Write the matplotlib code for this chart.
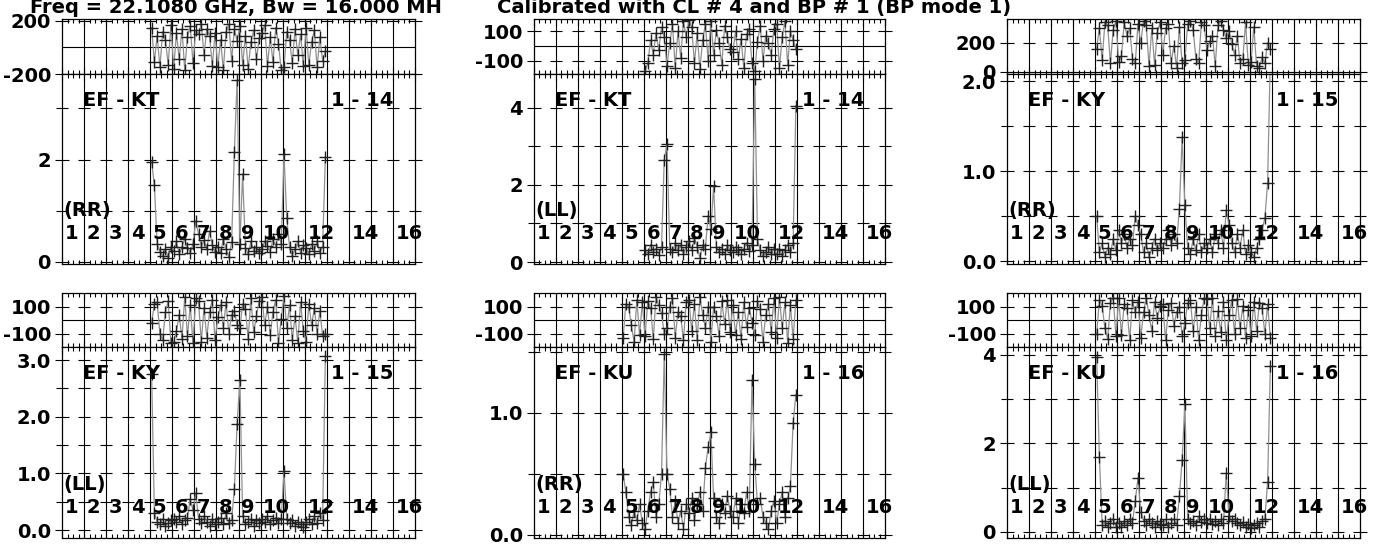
import matplotlib
matplotlib.use('Agg')
import matplotlib.pyplot as plt
from matplotlib.ticker import MultipleLocator, FixedLocator

plt.rcParams['font.family'] = ['DejaVu Sans']
plt.rcParams['font.weight'] = 'bold'
FS = 14

# ---------------- data ----------------
NCH = 8
IF_LABELS = [1, 2, 3, 4, 5, 6, 7, 8, 9, 10, 12, 14, 16]
TITLE_LEFT = "Freq = 22.1080 GHz, Bw = 16.000 MH"
TITLE_RIGHT = "Calibrated with CL # 4 and BP # 1 (BP mode 1)"

baselines = ["EF - KT", "EF - KT", "EF - KY", "EF - KY", "EF - KU", "EF - KU"]
ant_nums = ["1 - 14", "1 - 14", "1 - 15", "1 - 15", "1 - 16", "1 - 16"]
pols = ["(RR)", "(LL)", "(RR)", "(LL)", "(RR)", "(LL)"]
first_if = [5, 6, 5, 5, 5, 5]

amp1 = [[1.95, 1.50, 0.35, 0.20, 0.12, 0.25, 0.08, 0.30],
        [0.22, 0.40, 0.15, 0.30, 0.45, 0.28, 0.18, 0.35],
        [0.80, 0.55, 0.30, 0.42, 0.25, 0.60, 0.33, 0.20],
        [0.30, 0.18, 0.45, 0.25, 0.10, 0.38, 2.15, 3.55],
        [0.35, 1.72, 0.28, 0.15, 0.40, 0.22, 0.30, 0.18],
        [0.25, 0.40, 0.32, 0.20, 0.45, 0.30, 0.55, 0.35],
        [2.10, 0.85, 0.30, 0.12, 0.25, 0.40, 0.18, 0.33],
        [0.28, 0.15, 0.35, 0.22, 0.40, 0.18, 0.30, 2.05]]
phs1 = [[150, -110, 90, -150, 120, 60, -130, 170],
        [-160, 110, -90, 140, -170, 80, 160, -120],
        [130, 100, 180, -60, 140, 90, -140, 110],
        [-150, 60, -170, 120, 175, -100, 140, 50],
        [160, -130, 90, -160, 40, 130, -90, 70],
        [110, 170, -140, 80, -110, 150, 30, -170],
        [-150, 120, 60, -120, 140, -60, 100, -140],
        [150, -130, 40, 130, -150, 80, -100, -30]]

amp2 = [[0.30, 0.20, 0.45, 0.25, 0.35, 0.18, 0.40, 2.65],
        [3.05, 0.35, 0.25, 0.50, 0.30, 0.45, 0.20, 0.40],
        [0.55, 0.30, 0.62, 0.40, 0.10, 0.45, 0.35, 1.20],
        [0.85, 1.97, 0.40, 0.25, 0.35, 0.20, 0.45, 0.30],
        [0.25, 0.40, 0.30, 0.20, 0.35, 0.50, 0.28, 0.45],
        [4.75, 0.60, 0.30, 0.15, 0.25, 0.40, 0.20, 0.35],
        [0.20, 0.35, 0.15, 0.30, 0.45, 0.25, 0.50, 4.05]]
phs2 = [[-170, -120, 40, -60, 90, -30, 130, 60],
        [-140, 20, 150, -150, 100, -80, 170, 60],
        [180, 130, -120, 90, -160, 40, 150, -100],
        [170, -60, 110, 20, -130, 140, 60, -20],
        [-40, 100, -90, 50, -150, 80, 120, -120],
        [-170, 30, 140, -100, 70, 20, -60, 120],
        [150, -150, 60, 170, -130, 100, 40, -20]]

amp3 = [[0.50, 0.10, 0.20, 0.05, 0.15, 0.08, 0.25, 0.12],
        [0.35, 0.20, 0.30, 0.15, 0.25, 0.18, 0.50, 0.40],
        [0.30, 0.10, 0.20, 0.05, 0.15, 0.25, 0.12, 0.20],
        [0.15, 0.25, 0.35, 0.18, 0.30, 0.20, 0.58, 1.38],
        [0.62, 0.15, 0.08, 0.25, 0.12, 0.30, 0.10, 0.20],
        [0.15, 0.25, 0.10, 0.30, 0.20, 0.35, 0.15, 0.57],
        [0.40, 0.20, 0.10, 0.30, 0.15, 0.35, 0.08, 0.18],
        [0.10, 0.05, 0.15, 0.25, 0.35, 0.48, 0.87, 2.30]]
phs3 = [[160, 300, 80, 340, 320, 60, 290, 350],
        [70, 110, 340, 250, 300, 90, 60, 330],
        [200, 350, 320, 40, 300, 50, 270, 340],
        [120, 300, 330, 60, 180, 30, 310, 60],
        [80, 330, 350, 290, 90, 60, 340, 320],
        [150, 210, 250, 40, 320, 350, 290, 230],
        [280, 190, 120, 250, 60, 90, 340, 50],
        [70, 310, 40, 30, 100, 60, 200, 160]]

amp4 = [[2.75, 0.30, 0.15, 0.10, 0.20, 0.08, 0.12, 0.18],
        [0.20, 0.15, 0.25, 0.10, 0.18, 0.22, 0.55, 0.35],
        [0.65, 0.20, 0.12, 0.25, 0.15, 0.08, 0.20, 0.10],
        [0.15, 0.22, 0.10, 0.30, 0.12, 0.18, 0.72, 1.88],
        [2.65, 0.25, 0.10, 0.15, 0.20, 0.08, 0.18, 0.12],
        [0.20, 0.15, 0.25, 0.10, 0.18, 0.22, 0.12, 0.20],
        [1.05, 0.20, 0.12, 0.18, 0.08, 0.15, 0.10, 0.05],
        [0.15, 0.20, 0.10, 0.25, 0.12, 0.30, 0.18, 3.08]]
phs4 = [[-20, 120, 130, -100, -150, 60, 140, -170],
        [-160, -80, 40, -140, 170, -120, 110, -170],
        [160, 140, -160, 90, -130, 60, 150, -150],
        [20, 110, -60, 130, -100, 40, 70, -40],
        [-60, 120, 80, -140, 160, -90, 30, 140],
        [170, -40, 100, -110, 60, 150, -170, 10],
        [180, -60, 110, -150, 30, -170, 130, -80],
        [-160, 120, -40, 90, -100, 70, -120, -100]]

amp5 = [[0.50, 0.35, 0.15, 0.08, 0.20, 0.12, 0.25, 0.10],
        [0.05, 0.20, 0.35, 0.43, 0.15, 0.25, 0.50, 1.48],
        [0.50, 0.38, 0.15, 0.28, 0.10, 0.20, 0.05, 0.25],
        [0.18, 0.30, 0.12, 0.25, 0.35, 0.20, 0.55, 0.72],
        [0.84, 0.30, 0.15, 0.10, 0.25, 0.18, 0.32, 0.20],
        [0.15, 0.30, 0.10, 0.25, 0.18, 0.35, 0.20, 1.27],
        [0.58, 0.25, 0.30, 0.15, 0.10, 0.05, 0.20, 0.28],
        [0.10, 0.25, 0.35, 0.15, 0.30, 0.40, 0.92, 1.15]]
phs5 = [[-130, 120, 100, -40, -160, 150, -110, 130],
        [-120, 140, 90, -140, 170, 110, 50, -100],
        [-60, 100, 160, -130, 60, 30, -150, 130],
        [150, -80, 120, -150, 170, 40, -60, 100],
        [-160, 100, 30, -120, 140, -30, 150, -90],
        [110, -110, 60, -140, 130, -50, 90, -20],
        [-110, 140, 80, -160, 40, 120, -90, 160],
        [-130, 170, -60, 130, -170, 110, -140, 150]]

amp6 = [[3.95, 1.70, 0.15, 0.25, 0.10, 0.20, 0.30, 0.12],
        [0.20, 0.10, 0.25, 0.15, 0.30, 0.20, 0.70, 1.22],
        [0.45, 0.25, 0.15, 0.30, 0.20, 0.12, 0.25, 0.18],
        [0.15, 0.28, 0.10, 0.20, 0.30, 0.15, 0.80, 1.63],
        [2.90, 0.30, 0.20, 0.25, 0.15, 0.35, 0.22, 0.28],
        [0.20, 0.30, 0.18, 0.25, 0.15, 0.28, 0.20, 1.33],
        [0.35, 0.25, 0.30, 0.20, 0.15, 0.22, 0.10, 0.18],
        [0.08, 0.15, 0.20, 0.12, 0.25, 0.30, 1.13, 3.75]]
phs6 = [[-100, 150, 110, -60, -140, 130, 170, -120],
        [170, -110, 120, 90, -150, 150, 60, 140],
        [-130, 60, 170, 40, -80, 140, 20, 110],
        [120, -150, 80, 130, -40, 60, 100, -120],
        [-20, 130, 150, -80, 100, -150, 40, 170],
        [160, -60, 170, -120, 70, -90, 140, -150],
        [40, 150, -100, 160, -60, 110, -130, 80],
        [-120, 140, -80, 130, 90, -100, 120, -130]]

amps = [amp1, amp2, amp3, amp4, amp5, amp6]
phases = [phs1, phs2, phs3, phs4, phs5, phs6]

# axis ranges and ticks
amp_lims = [(-0.04, 3.67), (-0.05, 4.87), (-0.03, 2.08), (-0.14, 3.23), (-0.025, 1.54), (-0.14, 4.18)]
amp_major = [[0, 2], [0, 2, 4], [0.0, 1.0, 2.0], [0.0, 1.0, 2.0, 3.0], [0.0, 1.0], [0, 2, 4]]
amp_fmt = ["{:.0f}", "{:.0f}", "{:.1f}", "{:.1f}", "{:.1f}", "{:.0f}"]
amp_minor = [[1, 3], [1, 3], [0.5, 1.5], [0.5, 1.5, 2.5], [0.5, 1.5], [1, 3]]
ph_lims = [(-200, 215), (-193, 186), (-14, 364), (-200, 200), (-200, 200), (-200, 205)]
ph_major = [[-200, 200], [-100, 100], [0, 200], [-100, 100], [-100, 100], [-100, 100]]

# ---------------- layout ----------------
W, H = 1381, 547
fig = plt.figure(figsize=(W / 100, H / 100), dpi=100)

cols = [(62, 415), (534, 885), (1007, 1360)]
rows = [(19, 74, 264), (293, 347, 538)]


def style_axes(ax, ylo, yhi, major, labels, minor, zero_line=False):
    ax.set_xlim(0, 16)
    ax.set_ylim(ylo, yhi)
    for s in ax.spines.values():
        s.set_linewidth(0.9)
        s.set_color('black')
    ax.xaxis.set_major_locator(MultipleLocator(1))
    ax.xaxis.set_minor_locator(MultipleLocator(0.25))
    ax.tick_params(axis='x', which='both', direction='in', top=True, bottom=True,
                   labelbottom=False, width=0.8)
    ax.tick_params(axis='x', which='major', length=5)
    ax.tick_params(axis='x', which='minor', length=3)
    ax.yaxis.set_major_locator(FixedLocator(major))
    ax.set_yticklabels(labels)
    ax.yaxis.set_minor_locator(FixedLocator(minor))
    ax.tick_params(axis='y', which='both', direction='inout', left=True, right=True,
                   width=0.8, labelsize=FS, pad=3)
    ax.tick_params(axis='y', which='major', length=10)
    ax.tick_params(axis='y', which='minor', length=8)
    for lab in ax.get_yticklabels():
        lab.set_fontweight('bold')
    for i in range(1, 16):
        ax.axvline(i, color='black', lw=0.8, zorder=1)
    seps = list(range(1, 16))
    for t in list(major) + list(minor):
        ax.plot(seps, [t] * len(seps), ls='none', marker='_', ms=8, mew=0.8,
                color='black', zorder=1, clip_on=False)
    if zero_line:
        ax.axhline(0, color='black', lw=0.8, zorder=1)


for p in range(6):
    r, c = divmod(p, 3)
    l, rr = cols[c]
    pt, pb, ab = rows[r]
    ax_p = fig.add_axes([l / W, 1 - pb / H, (rr - l) / W, (pb - pt) / H])
    ax_a = fig.add_axes([l / W, 1 - ab / H, (rr - l) / W, (ab - pb) / H])

    xs, av, pv = [], [], []
    for k, (arow, prow) in enumerate(zip(amps[p], phases[p])):
        ifn = first_if[p] + k
        for ch in range(NCH):
            xs.append(ifn - 1 + (ch + 0.5) / NCH)
            av.append(arow[ch])
            pv.append(prow[ch])

    # phase panel
    style_axes(ax_p, ph_lims[p][0], ph_lims[p][1], ph_major[p],
               [str(v) for v in ph_major[p]], [], zero_line=True)
    ax_p.plot(xs, pv, color='#909090', lw=0.9, zorder=2)
    ax_p.plot(xs, pv, ls='none', marker='+', ms=8, mew=1.0, color='#202020', zorder=3)

    # amplitude panel
    style_axes(ax_a, amp_lims[p][0], amp_lims[p][1], amp_major[p],
               [amp_fmt[p].format(v) for v in amp_major[p]], amp_minor[p])
    ax_a.plot(xs, av, color='#909090', lw=0.9, zorder=2)
    ax_a.plot(xs, av, ls='none', marker='+', ms=8, mew=1.0, color='#202020', zorder=3)

    ax_a.text(0.06, 0.86, baselines[p], transform=ax_a.transAxes, fontsize=FS,
              fontweight='bold', ha='left', va='center', zorder=4)
    ax_a.text(0.94, 0.86, ant_nums[p], transform=ax_a.transAxes, fontsize=FS,
              fontweight='bold', ha='right', va='center', zorder=4)
    ax_a.text(0.005, 0.28, pols[p], transform=ax_a.transAxes, fontsize=FS,
              fontweight='bold', ha='left', va='center', zorder=4)
    for n in IF_LABELS:
        ax_a.text(n - 1 + 0.12, 0.16, str(n), transform=ax_a.get_xaxis_transform(),
                  fontsize=FS, fontweight='bold', ha='left', va='center', zorder=4)

fig.text(30 / W, 1 - 13 / H, TITLE_LEFT, fontsize=FS, fontweight='bold',
         ha='left', va='baseline')
fig.text(497 / W, 1 - 13 / H, TITLE_RIGHT, fontsize=FS, fontweight='bold',
         ha='left', va='baseline')

fig.savefig('out.png', dpi=100)
